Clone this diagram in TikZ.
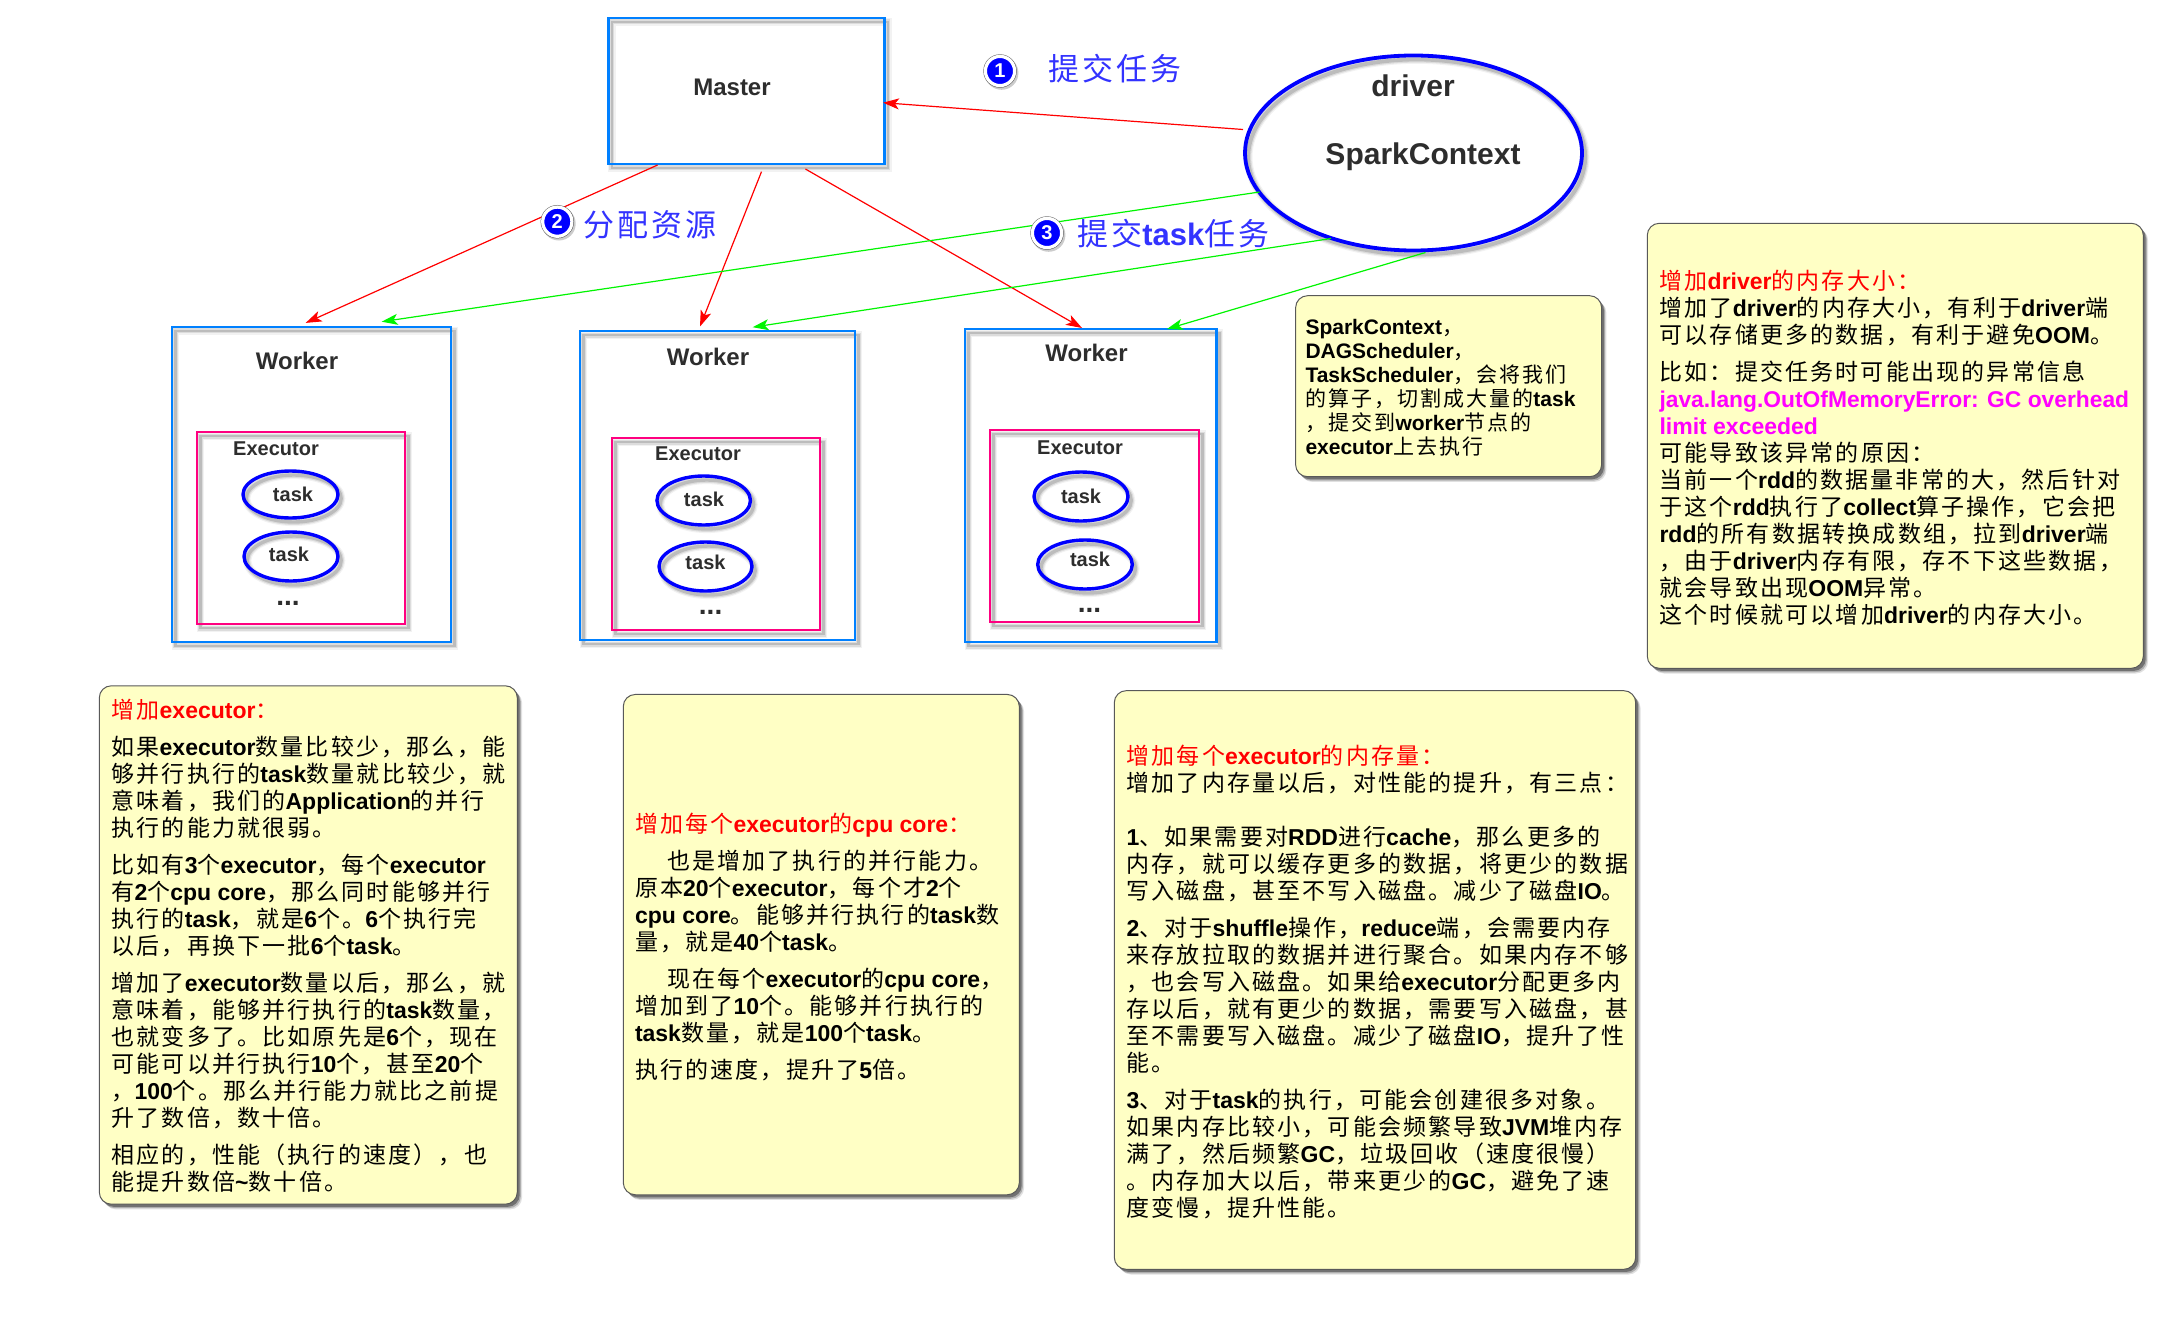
\documentclass[tikz,border=0pt]{standalone}
\usepackage{fontspec}
\setmainfont{Liberation Sans}
\newfontfamily\cjkf[LetterSpace=9.5]{Noto Sans CJK SC}
\usetikzlibrary{arrows.meta,shapes.geometric,calc}
\XeTeXinterchartokenstate=1
\newXeTeXintercharclass\cjkcl
\newcount\chcnt
\chcnt="4E00 \loop \XeTeXcharclass\chcnt=\cjkcl \advance\chcnt by 1 \ifnum\chcnt<"A000 \repeat
\chcnt="3000 \loop \XeTeXcharclass\chcnt=\cjkcl \advance\chcnt by 1 \ifnum\chcnt<"3040 \repeat
\chcnt="FF00 \loop \XeTeXcharclass\chcnt=\cjkcl \advance\chcnt by 1 \ifnum\chcnt<"FFF0 \repeat
\XeTeXinterchartoks 0 \cjkcl = {\begingroup\cjkf\mdseries}
\XeTeXinterchartoks 4095 \cjkcl = {\begingroup\cjkf\mdseries}
\XeTeXinterchartoks \cjkcl 0 = {\endgroup}
\XeTeXinterchartoks \cjkcl 4095 = {\endgroup}
\definecolor{boxblue}{RGB}{0,128,255}
\definecolor{boxpink}{RGB}{255,0,128}
\definecolor{labelblue}{RGB}{51,51,255}
\definecolor{notefill}{RGB}{255,255,197}
\definecolor{darktext}{RGB}{45,45,45}
\definecolor{arrowgreen}{RGB}{0,245,0}
\definecolor{errmagenta}{RGB}{255,0,255}
\tikzset{
  x=0.5pt,y=-0.5pt,
  sz/.style 2 args={minimum width=#1*0.5pt,minimum height=#2*0.5pt,inner sep=0pt,outer sep=0pt},
  lineshadow/.style={
    preaction={draw=black,draw opacity=.05,line width=#1+2.4pt,transform canvas={shift={(1.6pt,-2pt)}}},
    preaction={draw=black,draw opacity=.09,line width=#1+1.2pt,transform canvas={shift={(1.6pt,-2pt)}}},
    preaction={draw=black,draw opacity=.14,line width=#1,transform canvas={shift={(1.6pt,-2pt)}}}},
  masterbox/.style={rectangle,draw=boxblue,line width=1.3pt,lineshadow=1.3pt},
  execbox/.style={rectangle,draw=boxpink,line width=1.3pt,lineshadow=1.3pt},
  taskell/.style={ellipse,draw=blue,line width=1.7pt,lineshadow=1.7pt},
  driverell/.style={ellipse,draw=blue,line width=1.9pt,lineshadow=1.9pt},
  notebox/.style={rectangle,rounded corners=6pt,fill=notefill,draw=black!65,line width=.5pt,
    preaction={fill=black,fill opacity=.12,draw=none,transform canvas={shift={(2.4pt,-2.6pt)}}},
    preaction={fill=black,fill opacity=.22,draw=none,transform canvas={shift={(1.8pt,-2pt)}}},
    preaction={fill=black,fill opacity=.35,draw=none,transform canvas={shift={(1.2pt,-1.3pt)}}}},
  notetext/.style={align=left,anchor=north west,inner sep=0pt,outer sep=0pt,text=black,
    font=\fontsize{11.5}{13.5}\selectfont\bfseries},
  bigtitle/.style={text=darktext,inner sep=0pt,font=\fontsize{15}{17}\selectfont\bfseries},
  workertitle/.style={text=darktext,inner sep=0pt,font=\fontsize{12}{14}\selectfont\bfseries},
  exectitle/.style={text=darktext,inner sep=0pt,font=\fontsize{10}{12}\selectfont\bfseries},
  dotsmark/.style={text=darktext,inner sep=0pt,anchor=base,font=\fontsize{14}{16}\selectfont\bfseries},
  steplabel/.style={text=labelblue,inner sep=0pt,font=\fontsize{15.5}{18}\selectfont\bfseries},
  badge/.style={circle,fill=blue,draw=white,line width=1.6pt,minimum size=14.6pt,inner sep=0pt,outer sep=0pt,
    text=white,font=\fontsize{10}{12}\selectfont\bfseries,
    preaction={draw=black!60,line width=2.1pt},
    preaction={draw=black,draw opacity=.2,line width=2.2pt,transform canvas={shift={(.8pt,-1pt)}}}},
  redarrow/.style={draw=red,line width=.6pt,-{Stealth[length=8pt,width=5.5pt,inset=2pt]}},
  greenarrow/.style={draw=arrowgreen,line width=.6pt,-{Stealth[length=8pt,width=5.5pt,inset=2pt]}},
}
\begin{document}
\begin{tikzpicture}
\useasboundingbox (0,0) rectangle (2167,1332);
\fill[white] (0,0) rectangle (2167,1332);

% Master and driver
\node[masterbox,sz={276}{146}] (master) at (746.6,91) {};
\node[workertitle] (mastertxt) at (732,87) {Master};
\node[driverell,sz={337}{195}] (driver) at (1413.5,153) {};
\node[bigtitle] (drivertxt) at (1413,86) {driver};
\node[bigtitle] (sctxt) at (1423,157) {SparkContext};

% Workers
\node[masterbox,sz={279}{315}] (w1) at (311.5,484.4) {};
\node[masterbox,sz={275}{309}] (w2) at (717.5,485.5) {};
\node[masterbox,sz={251.5}{313}] (w3) at (1090.8,485.5) {};
\node[workertitle] (w1t) at (297,361) {Worker};
\node[workertitle] (w2t) at (708,357) {Worker};
\node[workertitle] (w3t) at (1086.5,353) {Worker};

% Executors
\node[execbox,sz={208}{192}] (e1) at (301,528) {};
\node[execbox,sz={208}{192}] (e2) at (716,534) {};
\node[execbox,sz={209}{192}] (e3) at (1094.5,526) {};
\node[exectitle] (e1t) at (276,449) {Executor};
\node[exectitle] (e2t) at (698,454) {Executor};
\node[exectitle] (e3t) at (1080,448) {Executor};

% Tasks
\node[taskell,sz={95}{47}] (t11) at (290.5,494.5) {};
\node[exectitle] (t11t) at (293,494) {task};
\node[taskell,sz={94}{49}] (t12) at (291,556.5) {};
\node[exectitle] (t12t) at (289,554) {task};
\node[taskell,sz={93.5}{49}] (t21) at (703.7,500.5) {};
\node[exectitle] (t21t) at (704,499) {task};
\node[taskell,sz={93}{49}] (t22) at (705.5,566.5) {};
\node[exectitle] (t22t) at (705.5,562) {task};
\node[taskell,sz={94}{49}] (t31) at (1081,496.5) {};
\node[exectitle] (t31t) at (1081,496) {task};
\node[taskell,sz={94.6}{49}] (t32) at (1085,564.5) {};
\node[exectitle] (t32t) at (1090,559) {task};
\node[dotsmark] (d1) at (288,605) {...};
\node[dotsmark] (d2) at (710.6,614) {...};
\node[dotsmark] (d3) at (1089.5,612) {...};

% Connectors
\draw[redarrow] ([shift={(-2,-23.5)}]driver.west) -- ([shift={(-1.6,11.7)}]master.east);
\draw[redarrow] ([shift={(-89,1)}]master.south) -- ([shift={(-5.8,-4)}]w1.north);
\draw[redarrow] ([shift={(14.9,7.7)}]master.south) -- ([shift={(-17.5,-4.5)}]w2.north);
\draw[redarrow] ([shift={(58.8,5)}]master.south) -- ([shift={(-8.8,-1)}]w3.north);
\draw[greenarrow] ([shift={(14.5,39)}]driver.west) -- ([shift={(70.2,-5.2)}]w1.north);
\draw[greenarrow] ([shift={(-82.5,-12)}]driver.south) -- ([shift={(35.2,-3.8)}]w2.north);
\draw[greenarrow] ([shift={(12,2)}]driver.south) -- ([shift={(76.2,0)}]w3.north);

% Step labels
\node[badge] (b1) at (1000,71) {1};
\node[steplabel,anchor=west] (l1) at (1048,69) {提交任务};
\node[badge] (b2) at (557.3,221.7) {2};
\node[steplabel,anchor=west] (l2) at (583,225) {分配资源};
\node[badge] (b3) at (1047,233) {3};
\node[steplabel,anchor=west] (l3) at (1077,234) {提交task任务};

% Notes
\node[notebox,sz={306}{181}] (n0) at (1448.6,386.2) {};
\node[notetext,font=\fontsize{10.5}{12}\selectfont\bfseries] (n0t) at (1305.5,319.5) {SparkContext，\\
DAGScheduler，\\
TaskScheduler，会将我们\\
的算子，切割成大量的task\\
，提交到worker节点的\\
executor上去执行};

\node[notebox,sz={418}{518.4}] (n1) at (308.3,945) {};
\node[notetext] (n1t) at (111.5,699.3) {\textcolor{red}{增加executor：}\\[5pt]
如果executor数量比较少，那么，能\\
够并行执行的task数量就比较少，就\\
意味着，我们的Application的并行\\
执行的能力就很弱。\\[5pt]
比如有3个executor，每个executor\\
有2个cpu core，那么同时能够并行\\
执行的task，就是6个。6个执行完\\
以后，再换下一批6个task。\\[5pt]
增加了executor数量以后，那么，就\\
意味着，能够并行执行的task数量，\\
也就变多了。比如原先是6个，现在\\
可能可以并行执行10个，甚至20个\\
，100个。那么并行能力就比之前提\\
升了数倍，数十倍。\\[5pt]
相应的，性能（执行的速度），也\\
能提升数倍\textasciitilde 数十倍。};

\node[notebox,sz={396}{500.3}] (n2) at (821.3,944.6) {};
\node[notetext] (n2t) at (635,813) {\textcolor{red}{增加每个executor的cpu core：}\\[5pt]
\hspace*{16pt}也是增加了执行的并行能力。\\
原本20个executor，每个才2个\\
cpu core。能够并行执行的task数\\
量，就是40个task。\\[5pt]
\hspace*{16pt}现在每个executor的cpu core，\\
增加到了10个。能够并行执行的\\
task数量，就是100个task。\\[5pt]
执行的速度，提升了5倍。};

\node[notebox,sz={521.4}{578.7}] (n3) at (1375,980) {};
\node[notetext] (n3t) at (1126.5,744.6) {\textcolor{red}{增加每个executor的内存量：}\\
增加了内存量以后，对性能的提升，有三点：\\[13.5pt]
1、如果需要对RDD进行cache，那么更多的\\
内存，就可以缓存更多的数据，将更少的数据\\
写入磁盘，甚至不写入磁盘。减少了磁盘IO。\\[5pt]
2、对于shuffle操作，reduce端，会需要内存\\
来存放拉取的数据并进行聚合。如果内存不够\\
，也会写入磁盘。如果给executor分配更多内\\
存以后，就有更少的数据，需要写入磁盘，甚\\
至不需要写入磁盘。减少了磁盘IO，提升了性\\
能。\\[5pt]
3、对于task的执行，可能会创建很多对象。\\
如果内存比较小，可能会频繁导致JVM堆内存\\
满了，然后频繁GC，垃圾回收（速度很慢）\\
。内存加大以后，带来更少的GC，避免了速\\
度变慢，提升性能。};

\node[notebox,sz={496}{445}] (n4) at (1895.3,445.8) {};
\node[notetext] (n4t) at (1659.5,270) {\textcolor{red}{增加driver的内存大小：}\\
增加了driver的内存大小，有利于driver端\\
可以存储更多的数据，有利于避免OOM。\\[5pt]
比如：提交任务时可能出现的异常信息\\
{\fontsize{11.4}{13.5}\selectfont\textcolor{errmagenta}{java.lang.OutOfMemoryError: GC overhead}}\\
\textcolor{errmagenta}{limit exceeded}\\
可能导致该异常的原因：\\
当前一个rdd的数据量非常的大，然后针对\\
于这个rdd执行了collect算子操作，它会把\\
rdd的所有数据转换成数组，拉到driver端\\
，由于driver内存有限，存不下这些数据，\\
就会导致出现OOM异常。\\
这个时候就可以增加driver的内存大小。};
\end{tikzpicture}
\end{document}
